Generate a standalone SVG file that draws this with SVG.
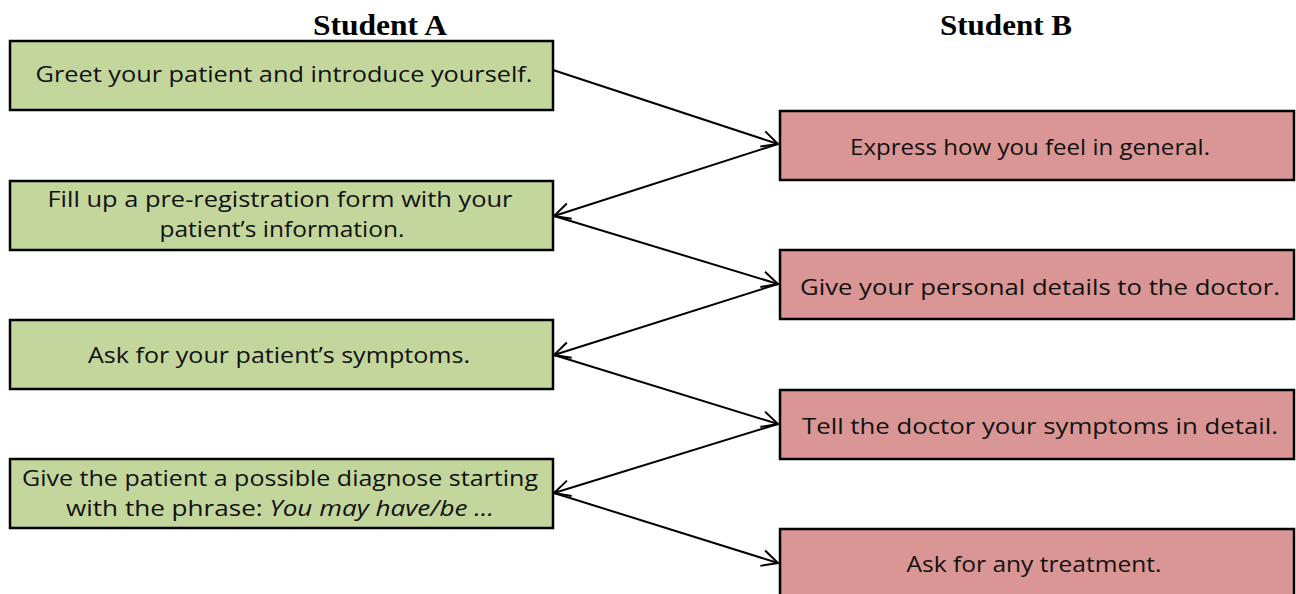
<svg xmlns="http://www.w3.org/2000/svg" width="1296" height="594" viewBox="0 0 1296 594">
<style>
.title{font-family:"Liberation Serif",serif;font-weight:bold;font-size:30px;fill:#000;text-anchor:middle}
.t{font-family:"Open Sans",Lato,sans-serif;font-size:22px;fill:#111;text-anchor:middle}
.ga rect{fill:#C3D69B;stroke:#000;stroke-width:2.5}
.rb rect{fill:#D99694;stroke:#000;stroke-width:2.5}
.conn line{stroke:#000;stroke-width:2;fill:none;marker-end:url(#arr)}
</style>
<defs>
<marker id="arr" viewBox="0 0 20 20" refX="18" refY="10" markerWidth="20" markerHeight="20" markerUnits="userSpaceOnUse" orient="auto">
<polyline points="2,2 18,10 2,18" fill="none" stroke="#000" stroke-width="2"/>
</marker>
</defs>
<rect width="1296" height="594" fill="#fff"/>
<text class="title" x="380" y="35" textLength="134" lengthAdjust="spacingAndGlyphs">Student A</text>
<text class="title" x="1006" y="35" textLength="132" lengthAdjust="spacingAndGlyphs">Student B</text>

<g id="a1" class="ga"><rect x="10" y="41" width="543" height="69"/><text class="t" x="284" y="82" textLength="497" lengthAdjust="spacingAndGlyphs">Greet your patient and introduce yourself.</text></g>
<g id="a2" class="ga"><rect x="10" y="181" width="543" height="69"/><text class="t" x="280" y="207" textLength="465" lengthAdjust="spacingAndGlyphs">Fill up a pre-registration form with your</text><text class="t" x="282" y="237" textLength="245" lengthAdjust="spacingAndGlyphs">patient’s information.</text></g>
<g id="a3" class="ga"><rect x="10" y="320" width="543" height="69"/><text class="t" x="279" y="363" textLength="382" lengthAdjust="spacingAndGlyphs">Ask for your patient’s symptoms.</text></g>
<g id="a4" class="ga"><rect x="10" y="459" width="543" height="69"/><text class="t" x="280" y="486" textLength="516" lengthAdjust="spacingAndGlyphs">Give the patient a possible diagnose starting</text><text class="t" x="280" y="516" textLength="428" lengthAdjust="spacingAndGlyphs">with the phrase: <tspan font-style="italic">You may have/be …</tspan></text></g>

<g id="b1" class="rb"><rect x="780" y="111" width="514" height="69"/><text class="t" x="1030" y="155" textLength="360" lengthAdjust="spacingAndGlyphs">Express how you feel in general.</text></g>
<g id="b2" class="rb"><rect x="780" y="250" width="514" height="69"/><text class="t" x="1040" y="295" textLength="480" lengthAdjust="spacingAndGlyphs">Give your personal details to the doctor.</text></g>
<g id="b3" class="rb"><rect x="780" y="390" width="514" height="69"/><text class="t" x="1040" y="434" textLength="476" lengthAdjust="spacingAndGlyphs">Tell the doctor your symptoms in detail.</text></g>
<g id="b4" class="rb"><rect x="780" y="529" width="514" height="69"/><text class="t" x="1034" y="572" textLength="255" lengthAdjust="spacingAndGlyphs">Ask for any treatment.</text></g>

<g id="connectors" class="conn">
<line x1="553" y1="70" x2="778" y2="144"/>
<line x1="778" y1="144" x2="554" y2="216"/>
<line x1="554" y1="216" x2="778" y2="284"/>
<line x1="778" y1="284" x2="554" y2="355"/>
<line x1="554" y1="355" x2="778" y2="424"/>
<line x1="778" y1="424" x2="554" y2="493"/>
<line x1="554" y1="493" x2="778" y2="563"/>
</g>
</svg>
